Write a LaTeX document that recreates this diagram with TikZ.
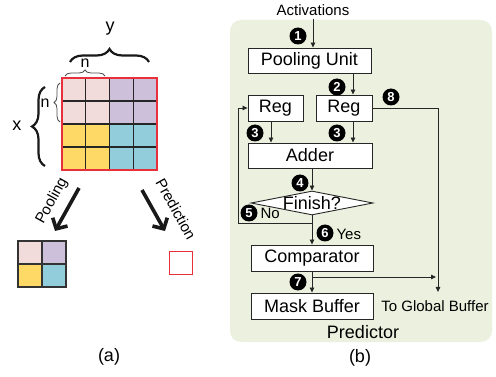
\documentclass[tikz,border=0pt]{standalone}
\usepackage{fontspec}
\setmainfont{Liberation Sans}
\usetikzlibrary{shapes.geometric,decorations.pathreplacing,arrows.meta}

\definecolor{cellpink}{HTML}{F2DCDB}
\definecolor{celllav}{HTML}{CCC0DA}
\definecolor{cellyel}{HTML}{FFD966}
\definecolor{cellteal}{HTML}{92CDDC}
\definecolor{predbg}{HTML}{EBF1DE}
\definecolor{gridred}{HTML}{E8303A}

\tikzset{
  box/.style={draw=black!85, line width=0.9pt, fill=white, inner sep=0pt,
    minimum height=26pt, font=\fontsize{18}{20}\selectfont},
  dia/.style={diamond, draw=black!85, line width=0.9pt, fill=white, inner sep=0pt,
    minimum width=122pt, minimum height=24pt},
  num/.style={circle, fill=black, text=white, inner sep=0pt, minimum size=17pt,
    font=\bfseries\fontsize{13}{13}\selectfont},
  lbl/.style={font=\fontsize{15}{17}\selectfont},
  arr/.style={-{Triangle[length=5pt,width=4.5pt]}, line width=0.8pt, draw=black!85},
  bigarr/.style={-{Straight Barb[length=8pt,width=17pt]}, line width=3.6pt, black!90},
  bigbrace/.style={decorate, decoration={brace, amplitude=13pt}, line width=2.2pt, black!90},
  smallbrace/.style={decorate, decoration={brace, amplitude=6pt}, line width=0.8pt, black!70}
}

\begin{document}
\begin{tikzpicture}[x=1pt, y=-1pt]
  \useasboundingbox (0,0) rectangle (496,377);

  % ---- (a): input activations ----
  % Quadrants
  \fill[cellpink] (62,78) rectangle (109.5,124);
  \fill[celllav] (109.5,78) rectangle (157,124);
  \fill[cellyel] (62,124) rectangle (109.5,170);
  \fill[cellteal] (109.5,124) rectangle (157,170);
  % Grid lines
  \foreach \i in {1,2,3} {
    \draw[black!85, line width=1.1pt] (62+23.75*\i,78) -- (62+23.75*\i,170);
    \draw[black!85, line width=1.1pt] (62,78+23*\i) -- (157,78+23*\i);
  }
  \draw[gridred, line width=1.1pt] (62,78) rectangle (157,170);
  % Braces
  \draw[bigbrace] (70,62) -- (149,62);
  \node[font=\fontsize{18}{20}\selectfont] (ylab) at (110,29) {y};
  \draw[smallbrace] (65,76) -- (105,76);
  \node[font=\fontsize{16}{18}\selectfont] (ntop) at (85,63) {n};
  \draw[bigbrace] (45,166) -- (45,87);
  \node[font=\fontsize{18}{20}\selectfont] (xlab) at (17,126) {x};
  \draw[smallbrace] (60,122) -- (60,83);
  \node[font=\fontsize{16}{18}\selectfont] (nleft) at (45,103) {n};
  % Pooling and prediction
  \draw[bigarr] (79,188) -- (55,231);
  \node[lbl, rotate=61] (poolab) at (52,201) {Pooling};
  \draw[bigarr] (142,190) -- (165,231);
  \node[lbl, rotate=-61] (predlab) at (176,209) {Prediction};
  % Pooled result
  \fill[cellpink] (18,241) rectangle (42,264);
  \fill[celllav] (42,241) rectangle (66,264);
  \fill[cellyel] (18,264) rectangle (42,287);
  \fill[cellteal] (42,264) rectangle (66,287);
  \draw[black!80, line width=1.1pt] (42,241) -- (42,287) (18,264) -- (66,264);
  \draw[black!80, line width=1.1pt] (18,241) rectangle (66,287);
  % Predicted mask
  \draw[gridred, line width=1pt] (169,252) rectangle (192,275);
  \node[font=\fontsize{18}{20}\selectfont] (capa) at (109,357) {(a)};

  % ---- (b): predictor ----
  \fill[predbg, rounded corners=11pt] (230,20) rectangle (492,342);
  \node[lbl] (act) at (313,10) {Activations};
  \node[box, minimum width=123pt, minimum height=25pt] (pool) at (309.5,60.5) {Pooling Unit};
  \node[box, minimum width=55pt] (regl) at (275.5,108) {Reg};
  \node[box, minimum width=56pt] (regr) at (344,108) {Reg};
  \node[box, minimum width=124pt, minimum height=25pt] (adder) at (310,155.5) {Adder};
  \node[dia, label={[font=\fontsize{18}{20}\selectfont]center:Finish?}] (finish) at (312,203) {};
  \node[box, minimum width=122pt] (comp) at (312,258) {Comparator};
  \node[box, minimum width=122pt] (mask) at (312,306) {Mask Buffer};
  \coordinate (noturn) at (238,223);
  \coordinate (tap) at (312,277);
  \coordinate (glob) at (438,292);
  % Connectors
  \draw[arr] (act.south) -- (act.south |- pool.north);
  \draw[arr] ([xshift=9pt]regr.north |- pool.south) -- ([xshift=9pt]regr.north);
  \draw[arr] ([xshift=-4.5pt]regl.south) -- ([xshift=-4.5pt]regl.south |- adder.north);
  \draw[arr] ([xshift=9pt]regr.south) -- ([xshift=9pt]regr.south |- adder.north);
  \draw[arr] (finish.north |- adder.south) -- (finish.north);
  \draw[arr] (finish.south) |- (noturn) |- (regl.west);
  \draw[arr] (finish.south) -- (comp.north);
  \draw[arr] (comp.south) -- (mask.north);
  \draw[arr] (tap) -- ([xshift=-2pt]glob |- tap);
  \draw[arr] (regr.east) -| (glob);
  % Step numbers
  \node[num] (s1) at (298,36) {1};
  \node[num] (s2) at (337,87) {2};
  \node[num] (s8) at (391,97) {8};
  \node[num] (s3l) at (255,133) {3};
  \node[num] (s3r) at (337,133) {3};
  \node[num] (s4) at (300,183) {4};
  \node[num] (s5) at (249,213) {5};
  \node[num] (s6) at (325,233) {6};
  \node[num] (s7) at (298,282) {7};
  % Labels
  \node[lbl, anchor=west] (nolab) at (257,213) {No};
  \node[lbl, anchor=west] (yeslab) at (333,234) {Yes};
  \node[lbl] (globlab) at (435,306) {To Global Buffer};
  \node[font=\fontsize{18}{20}\selectfont] (predname) at (363,332) {Predictor};
  \node[font=\fontsize{18}{20}\selectfont] (capb) at (360,358) {(b)};
\end{tikzpicture}
\end{document}
